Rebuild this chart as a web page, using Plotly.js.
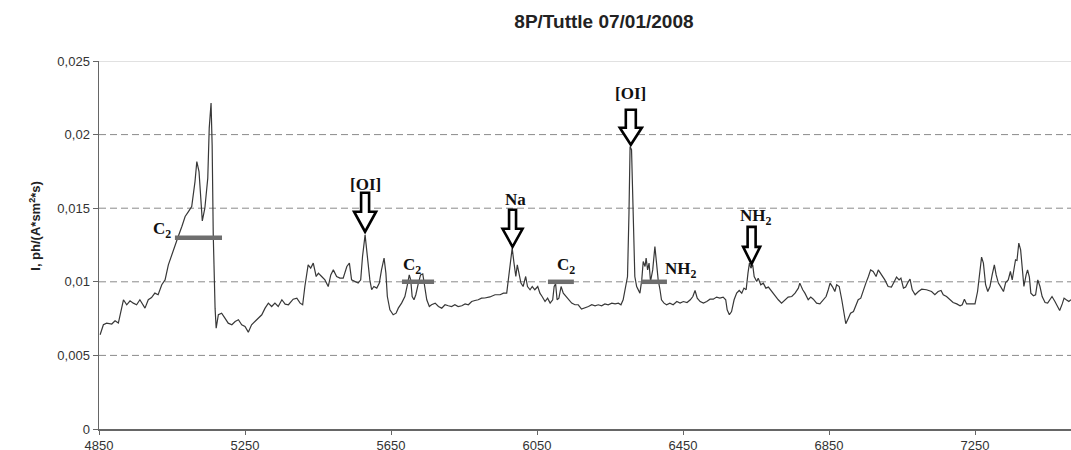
<!DOCTYPE html>
<html>
<head>
<meta charset="utf-8">
<script src="https://cdn.plot.ly/plotly-3.0.1.min.js"></script>
<style>html,body{margin:0;padding:0;background:#fff;}#chart{width:1071px;height:450px;}</style>
</head>
<body>
<div id="chart"></div>
<script>
// Spectrum (wavelength in Å, intensity)
const wavelength = [4853,4862,4871,4885,4894,4903,4912,4917,4926,4935,4944,4953,4962,4976,4985,4994,5003,5012,5022,5031,5040,5049,5058,5067,5077,5086,5095,5104,5113,5118,5124,5129,5133,5140,5148,5152,5157,5160,5163,5168,5171,5177,5186,5195,5204,5214,5223,5232,5241,5250,5259,5268,5277,5286,5296,5305,5314,5323,5332,5341,5351,5360,5369,5382,5392,5401,5408,5414,5423,5430,5437,5445,5451,5460,5469,5478,5485,5492,5501,5510,5519,5529,5536,5542,5551,5560,5567,5572,5579,5585,5592,5597,5603,5611,5618,5624,5631,5636,5640,5647,5656,5664,5670,5679,5688,5695,5700,5704,5708,5713,5718,5725,5731,5737,5743,5748,5755,5761,5771,5780,5789,5798,5807,5816,5825,5834,5844,5853,5862,5871,5880,5889,5898,5907,5921,5935,5949,5958,5967,5973,5979,5982,5987,5992,5996,6001,6006,6012,6019,6024,6031,6037,6044,6052,6058,6064,6072,6079,6086,6093,6097,6101,6105,6110,6116,6122,6129,6136,6145,6154,6163,6172,6181,6191,6200,6209,6218,6227,6236,6245,6255,6264,6273,6280,6286,6293,6298,6302,6305,6309,6313,6318,6323,6327,6332,6337,6341,6346,6349,6353,6357,6361,6367,6373,6377,6382,6387,6391,6398,6405,6414,6423,6433,6442,6451,6461,6470,6477,6483,6489,6497,6506,6515,6524,6533,6542,6551,6560,6567,6571,6577,6583,6590,6597,6604,6611,6617,6623,6628,6632,6636,6641,6645,6652,6656,6663,6670,6677,6684,6693,6702,6711,6720,6729,6738,6748,6757,6766,6770,6778,6784,6793,6800,6807,6816,6825,6834,6842,6848,6853,6860,6866,6871,6878,6885,6891,6896,6903,6909,6917,6924,6930,6937,6944,6951,6958,6964,6971,6979,6985,6994,7003,7012,7021,7029,7035,7042,7047,7054,7060,7066,7072,7078,7086,7095,7104,7117,7131,7140,7149,7157,7163,7172,7181,7190,7200,7209,7215,7221,7227,7241,7250,7257,7264,7268,7273,7279,7285,7291,7297,7303,7308,7314,7321,7328,7334,7341,7347,7352,7358,7361,7365,7370,7375,7379,7384,7390,7394,7399,7403,7410,7416,7422,7428,7434,7442,7449,7455,7461,7469,7476,7482,7489,7494,7500,7507,7513];
const intensity = [0.0064,0.00708,0.00719,0.00713,0.00735,0.0072,0.00821,0.00878,0.00844,0.00871,0.00855,0.00844,0.00878,0.00821,0.00878,0.00893,0.00923,0.00912,0.0098,0.01013,0.01115,0.01183,0.0124,0.01308,0.01376,0.01444,0.01477,0.01511,0.01681,0.01817,0.01749,0.01523,0.01414,0.015,0.01704,0.02044,0.02214,0.0193,0.01319,0.00821,0.00685,0.00776,0.00787,0.00753,0.00719,0.00708,0.0073,0.00742,0.00708,0.00696,0.00658,0.00708,0.0073,0.00757,0.00776,0.00821,0.00855,0.00832,0.00855,0.00832,0.00878,0.00848,0.00844,0.00882,0.00889,0.00855,0.00844,0.00968,0.01115,0.01093,0.01127,0.01036,0.01059,0.01036,0.01013,0.00968,0.01047,0.01081,0.01036,0.01025,0.01025,0.01104,0.01127,0.01013,0.01002,0.00991,0.01013,0.01172,0.01319,0.01172,0.01013,0.00946,0.00968,0.00957,0.00991,0.01081,0.01161,0.01059,0.009,0.0081,0.00776,0.00787,0.00821,0.00855,0.009,0.0098,0.01047,0.01013,0.009,0.00878,0.00912,0.00991,0.01047,0.01054,0.00968,0.00878,0.00832,0.00844,0.00855,0.00832,0.00821,0.00844,0.00837,0.00832,0.00844,0.00832,0.00837,0.0085,0.00844,0.00866,0.00873,0.00878,0.00889,0.0089,0.00897,0.00912,0.00912,0.00923,0.00923,0.01036,0.01149,0.01229,0.01127,0.01036,0.01115,0.01059,0.00991,0.00968,0.01036,0.00968,0.00946,0.00968,0.00946,0.00968,0.00923,0.009,0.00866,0.00889,0.00855,0.00878,0.00968,0.00986,0.00878,0.00889,0.00968,0.00923,0.009,0.00878,0.00855,0.00844,0.00844,0.00815,0.00821,0.00832,0.00844,0.00837,0.00844,0.00837,0.0085,0.00844,0.00855,0.0085,0.00855,0.00844,0.00878,0.00968,0.01036,0.01467,0.01919,0.01897,0.01467,0.01036,0.00968,0.00946,0.00923,0.01013,0.01138,0.01104,0.01161,0.01081,0.01127,0.01002,0.01081,0.0124,0.01127,0.01013,0.00946,0.00878,0.00855,0.00844,0.00855,0.00844,0.00866,0.00855,0.00866,0.00859,0.00878,0.009,0.00941,0.00889,0.00866,0.00855,0.00866,0.00882,0.00882,0.00896,0.00889,0.00896,0.00878,0.0081,0.00776,0.00798,0.00878,0.00923,0.00941,0.00923,0.00957,0.00946,0.01059,0.01127,0.01093,0.01115,0.01036,0.01002,0.01025,0.0098,0.00991,0.00957,0.00964,0.00934,0.00912,0.00878,0.00855,0.00878,0.00896,0.009,0.00923,0.00957,0.00991,0.00946,0.00923,0.00878,0.00896,0.00882,0.00855,0.0085,0.00878,0.009,0.00946,0.00991,0.00964,0.00934,0.0098,0.00968,0.00878,0.00787,0.00715,0.00753,0.00787,0.00798,0.00844,0.00878,0.00889,0.00946,0.00991,0.01036,0.01081,0.0107,0.01036,0.01081,0.01047,0.01013,0.00968,0.00964,0.01002,0.01032,0.01013,0.01025,0.00957,0.00964,0.00995,0.01018,0.00946,0.00912,0.00934,0.0095,0.00946,0.00934,0.00912,0.00934,0.00941,0.00912,0.009,0.00878,0.00859,0.0085,0.00837,0.00844,0.00882,0.0085,0.00848,0.0085,0.00934,0.01104,0.01168,0.01127,0.0098,0.00934,0.00968,0.01047,0.01115,0.01047,0.00991,0.00964,0.00934,0.00995,0.01013,0.0107,0.01013,0.01104,0.01149,0.01145,0.01263,0.01217,0.01081,0.00968,0.01047,0.01081,0.01032,0.00923,0.00905,0.00912,0.01013,0.00968,0.009,0.00859,0.00855,0.00882,0.009,0.00866,0.00832,0.00805,0.0085,0.00889,0.00878,0.00866,0.00878];

// Molecular band markers (horizontal bars)
const bandStart = [5058, 5680, 6080, 6335];
const bandEnd   = [5187, 5768, 6151, 6406];
const bandLevel = [0.013, 0.01, 0.01, 0.01];

// Labels
const labelText = ['C<sub>2</sub>', '[OI]', 'C<sub>2</sub>', 'Na', 'C<sub>2</sub>', '[OI]', 'NH<sub>2</sub>', 'NH<sub>2</sub>'];
const labelX = [5023, 5581, 5708, 5990, 6129, 6305, 6444, 6650];
const labelY = [0.01352, 0.01659, 0.01109, 0.01557, 0.01109, 0.02277, 0.01082, 0.01442];

// Arrow tips (line emissions)
const arrowX = [5579, 5983, 6307, 6638];
const arrowY = [0.0134, 0.01238, 0.01931, 0.01122];

// Axis ticks
const xTickVals = [4850, 5250, 5650, 6050, 6450, 6850, 7250];
const xTickText = ['4850', '5250', '5650', '6050', '6450', '6850', '7250'];
const yTickVals = [0, 0.005, 0.01, 0.015, 0.02, 0.025];
const yTickText = ['0', '0,005', '0,01', '0,015', '0,02', '0,025'];
const dashedGrid = [0.005, 0.01, 0.015, 0.02];

const traces = [{
  x: wavelength, y: intensity, type: 'scatter', mode: 'lines',
  line: {color: '#383838', width: 1.2}, hoverinfo: 'skip'
}];
for (let i = 0; i < bandStart.length; i++) {
  traces.push({
    x: [bandStart[i], bandEnd[i]], y: [bandLevel[i], bandLevel[i]],
    type: 'scatter', mode: 'lines', line: {color: '#6e6e6e', width: 4.5}, hoverinfo: 'skip'
  });
}

const arrowDims = [
  {L: 39, H: 20, hw: 11, sw: 4},
  {L: 37, H: 18, hw: 10, sw: 3.5},
  {L: 35, H: 17, hw: 11, sw: 5},
  {L: 37, H: 17, hw: 8.5, sw: 4}
];
function arrowPath(d) {
  return 'M0,0 L' + (-d.hw) + ',' + d.H + ' L' + (-d.sw) + ',' + d.H + ' L' + (-d.sw) + ',' + d.L +
         ' L' + d.sw + ',' + d.L + ' L' + d.sw + ',' + d.H + ' L' + d.hw + ',' + d.H + ' Z';
}
const shapes = dashedGrid.map(v => ({
  type: 'line', xref: 'paper', yref: 'y', x0: 0, x1: 1, y0: v, y1: v,
  line: {color: '#8a8a8a', width: 1, dash: '7px,4px'}, layer: 'below'
}));
shapes.push({
  type: 'line', xref: 'paper', yref: 'y', x0: 0, x1: 1, y0: yTickVals[5], y1: yTickVals[5],
  line: {color: '#c4c4c4', width: 1}, layer: 'below'
});
arrowX.forEach((ax, i) => shapes.push({
  type: 'path', xref: 'x', yref: 'y', xsizemode: 'pixel', ysizemode: 'pixel',
  xanchor: ax, yanchor: arrowY[i], path: arrowPath(arrowDims[i]),
  fillcolor: '#ffffff', line: {color: '#000000', width: 2.6}, layer: 'above'
}));

const annotations = labelText.map((t, i) => ({
  x: labelX[i], y: labelY[i], xref: 'x', yref: 'y', text: '<b>' + t + '</b>',
  showarrow: false, xanchor: 'center', yanchor: 'middle',
  font: {family: 'Liberation Serif, Times New Roman, serif', size: 17, color: '#111'}
}));
annotations.push({
  xref: 'paper', yref: 'paper', x: -0.066, y: 0.552, xanchor: 'center', yanchor: 'middle',
  text: '<b>I, ph/(A*sm<sup>2</sup>*s)</b>', textangle: -90, showarrow: false,
  font: {family: 'Liberation Sans, Arial, sans-serif', size: 13, color: '#222'}
});

const layout = {
  width: 1071, height: 450,
  margin: {l: 99, r: 0, t: 61, b: 21, pad: 0},
  paper_bgcolor: '#ffffff', plot_bgcolor: '#ffffff',
  showlegend: false,
  title: {
    text: '<b>8P/Tuttle 07/01/2008</b>', x: 0.5195, xref: 'paper', xanchor: 'center',
    y: 0.952, yref: 'container', yanchor: 'middle',
    font: {family: 'Liberation Sans, Arial, sans-serif', size: 19, color: '#222'}
  },
  xaxis: {
    range: [4850, 7513], tickvals: xTickVals, ticktext: xTickText,
    showgrid: false, zeroline: false, showline: true, linecolor: '#666', linewidth: 1.5,
    ticks: 'outside', ticklen: 4, tickcolor: '#666', tickwidth: 1,
    tickfont: {family: 'Liberation Sans, Arial, sans-serif', size: 13, color: '#333'}
  },
  yaxis: {
    range: [0, 0.025], tickvals: yTickVals, ticktext: yTickText,
    showgrid: false, zeroline: false, showline: true, linecolor: '#666', linewidth: 1.5,
    ticks: 'outside', ticklen: 5, tickcolor: '#666', tickwidth: 1,
    tickfont: {family: 'Liberation Sans, Arial, sans-serif', size: 13, color: '#333'}
  },
  shapes: shapes,
  annotations: annotations
};

Plotly.newPlot('chart', traces, layout, {displayModeBar: false, staticPlot: true});
</script>
</body>
</html>
